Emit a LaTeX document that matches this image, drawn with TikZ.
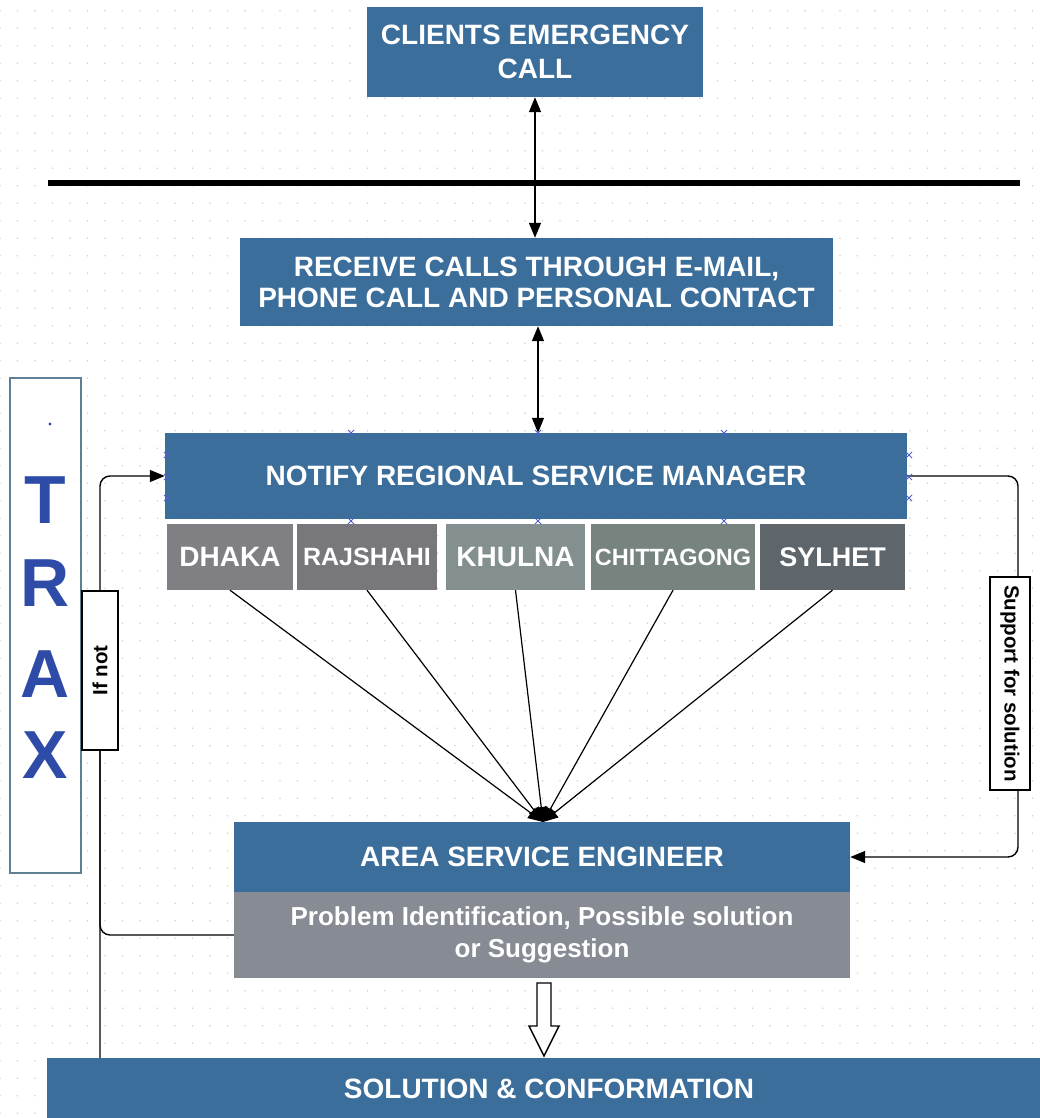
\documentclass[tikz,border=0pt]{standalone}
\usepackage{fontspec}
\setmainfont{Liberation Sans}
\usetikzlibrary{arrows.meta,calc}
\definecolor{boxblue}{HTML}{3B6E9B}
\definecolor{probgray}{HTML}{878B94}
\definecolor{cdhaka}{HTML}{7F7F84}
\definecolor{craj}{HTML}{78777C}
\definecolor{ckhulna}{HTML}{83908F}
\definecolor{cchitt}{HTML}{76837F}
\definecolor{csylhet}{HTML}{5E666B}
\definecolor{traxblue}{HTML}{2F4BA8}
\definecolor{traxborder}{HTML}{5F7F95}
\definecolor{handle}{HTML}{5060C8}
\definecolor{gridc}{HTML}{D2D2D2}
\begin{document}
\begin{tikzpicture}[x=1pt,y=-1pt,
  bluebox/.style={fill=boxblue, text=white, inner sep=0pt, align=center,
    font=\bfseries\fontsize{28}{34}\selectfont},
  citybox/.style={text=white, inner sep=0pt, minimum height=66pt,
    font=\bfseries\fontsize{28}{34}\selectfont},
  conn/.style={draw=black, line width=1.4pt},
  arr/.style={-{Triangle[length=15pt,width=12pt]}},
  dblarr/.style={{Triangle[length=15pt,width=12pt]}-{Triangle[length=15pt,width=12pt]}},
  lblbox/.style={draw=black, line width=1.3pt, fill=white, inner sep=0pt,
    font=\bfseries\fontsize{20.5}{24}\selectfont},
  hx/.style={draw=handle, line width=0.8pt}
]
\useasboundingbox (0,0) rectangle (1039,1118);
\fill[white] (0,0) rectangle (1039,1118);
% dot grid
\foreach \i in {0,...,59}{
  \foreach \j in {0,...,63}{
    \fill[gridc] (\i*17.5, \j*17.5+10.8) circle (0.9);
  }
}

% boxes
\node[bluebox, minimum width=336pt, minimum height=90pt] (top) at (535,52) {CLIENTS EMERGENCY\\CALL};
\node[bluebox, minimum width=593pt, minimum height=88pt,
      font=\bfseries\fontsize{28}{31}\selectfont] (recv) at (536.5,282)
      {RECEIVE CALLS THROUGH E-MAIL,\\PHONE CALL AND PERSONAL CONTACT};
\node[bluebox, minimum width=742pt, minimum height=86pt] (notify) at (536,476) {NOTIFY REGIONAL SERVICE MANAGER};

\node[citybox, fill=cdhaka, minimum width=126pt] (dhaka) at (230,557) {DHAKA};
\node[citybox, fill=craj, minimum width=140pt, font=\bfseries\fontsize{25}{30}\selectfont] (raj) at (367,557) {RAJSHAHI};
\node[citybox, fill=ckhulna, minimum width=139pt] (khulna) at (515.5,557) {KHULNA};
\node[citybox, fill=cchitt, minimum width=164pt, font=\bfseries\fontsize{23.5}{28}\selectfont] (chitt) at (673,557) {CHITTAGONG};
\node[citybox, fill=csylhet, minimum width=145pt, font=\bfseries\fontsize{27}{32}\selectfont] (sylhet) at (832.5,557) {SYLHET};

\node[bluebox, minimum width=616pt, minimum height=70pt] (ase) at (542,857) {AREA SERVICE ENGINEER};
\node[bluebox, fill=probgray, minimum width=616pt, minimum height=86pt,
      font=\bfseries\fontsize{26}{32}\selectfont] (prob) at (542,935)
      {Problem Identification, Possible solution\\or Suggestion};
\node[bluebox, minimum width=1004pt, minimum height=62pt] (sol) at (549,1089) {SOLUTION \& CONFORMATION};

% TRAX box
\node[draw=traxborder, line width=1.3pt, fill=white, minimum width=71pt, minimum height=495pt, inner sep=0pt] (trax) at (45.5,625.5) {};
\fill[traxblue] (50,424) circle (1.6);
\foreach \l/\yy [count=\k] in {T/523,R/606,A/697,X/778}{
  \node[text=traxblue, font=\bfseries\fontsize{68}{80}\selectfont, anchor=base, inner sep=0pt] (trax\k) at (45.5,\yy) {\l};
}

% thick separator
\draw[line width=6pt] (48,183) -- (1020,183);

% vertical double arrows
\draw[conn, dblarr] (top.south) -- (top.south |- recv.north);
\draw[conn, dblarr] ($(recv.south)+(1.5,0)$) -- ($(recv.south |- notify.north)+(1.5,0)$);

% converging arrows
\coordinate (conv) at (543,822);
\foreach \c in {dhaka,raj,khulna,chitt,sylhet}{
  \draw[conn, arr, line width=1.2pt] (\c.south) -- (conv);
}

% right loop
\coordinate (rbot) at (1018,857);
\draw[conn, arr, rounded corners=10pt] (notify.east) -| (rbot) -- (ase.east);
\node[lblbox, rotate=-90, minimum width=213pt, minimum height=40pt] (support) at (1010,683.5) {Support for solution};

% left loop
\coordinate (lx) at (100,700);
\draw[conn, arr, rounded corners=10pt] (lx |- sol.north) |- (notify.west);
\draw[conn, rounded corners=10pt] (prob.west) -| (lx);
\node[lblbox, rotate=90, minimum width=159pt, minimum height=36pt] (ifnot) at (100,670.5) {If not};

% hollow block arrow
\coordinate (bt) at (544,983);
\coordinate (bb) at (544,1056);
\draw[line width=1.4pt, fill=white, line join=miter]
  ($(bt)+(-7,0)$) -- ($(bt)+(7,0)$) -- ($(bb)+(7,-30)$) -- ($(bb)+(15,-30)$) -- (bb)
  -- ($(bb)+(-15,-30)$) -- ($(bb)+(-7,-30)$) -- cycle;

% selection handles on notify box
\foreach \px/\py in {351/433,538/433,724/433,351/521,538/521,724/521,
                     167/455,167/477,167/498,909/455,909/477,909/498}{
  \draw[hx] (\px-3,\py-3) -- (\px+3,\py+3) (\px-3,\py+3) -- (\px+3,\py-3);
}
\end{tikzpicture}
\end{document}
